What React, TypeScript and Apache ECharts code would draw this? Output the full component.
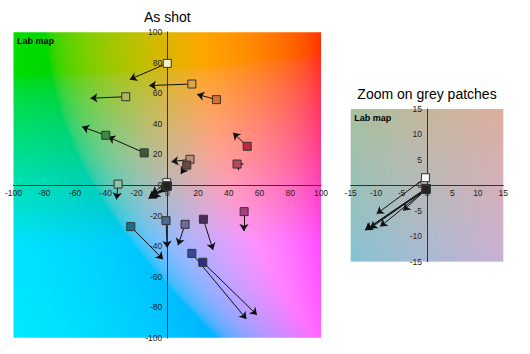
import React, { useEffect, useRef } from "react";
import * as echarts from "echarts";

// Tick labels
const mainTicks = [-100, -80, -60, -40, -20, 0, 20, 40, 60, 80, 100];
const zoomTicks = [-15, -10, -5, 0, 5, 10, 15];

// Colour patches (measured a*, b*), their reference targets and fills
const patchA = [0, 16, 32, -27, -15, -40, 52, 45.4, 14.8, 12.7, -32, -23.7, -0.8, 11.6, 23.5, 50, 16, 23.1];
const patchB = [79.5, 66, 55.8, 57.7, 21, 32.5, 25.3, 13.7, 16.8, 13, 0.6, -27.2, -23.3, -25.7, -22.4, -17.4, -44.7, -50.5];
const targetA = [-24.4, -11.8, 19.4, -50, -38.5, -55.4, 42.8, 44.6, 2.7, 8.8, -33, -2.7, 0, 7, 29.8, 49.8, 51.5, 58.4];
const targetB = [69, 65, 59.3, 56.7, 31.5, 38.1, 34.2, 14.3, 15.2, 7.2, -9.4, -48.6, -41, -39.4, -42.5, -30, -87.6, -85];
const patchColors = [
  "#f8eec4", "#e0a448", "#d8702c", "#b0b45e", "#3d5a37", "#3f8a45",
  "#c0283c", "#b84a5a", "#bc8c7c", "#6a4a40", "#8cc4a8", "#1a6e8a",
  "#4a6a90", "#6a6aa0", "#4a2e5a", "#a83c7c", "#3a4a9a", "#28308a",
];

// Grey patches
const greyA = [-0.3, -0.2, -0.1, -0.2, -0.1, -0.2];
const greyB = [1.5, -0.6, -0.7, -0.8, -0.7, -0.8];
const greyTargetA = [-9.9, -12.2, -11.2, -9.2, -4.7, -12.0];
const greyTargetB = [-5.6, -8.8, -8.45, -8.1, -5.0, -8.7];
const greyColors = ["#f6f6f6", "#c8c8c8", "#9a9a9a", "#6a6a6a", "#444444", "#222222"];

const FONT = '"Liberation Sans", Arial, sans-serif';
const LAB_L = 75;

function labToRgb(L: number, a: number, b: number): [number, number, number] {
  const fy = (L + 16) / 116;
  const fx = fy + a / 500;
  const fz = fy - b / 200;
  const f = (t: number) => (t > 0.206893 ? t * t * t : (t - 16 / 116) / 7.787);
  const X = 0.95047 * f(fx);
  const Y = f(fy);
  const Z = 1.08883 * f(fz);
  const lin = [
    3.2406 * X - 1.5372 * Y - 0.4986 * Z,
    -0.9689 * X + 1.8758 * Y + 0.0415 * Z,
    0.0557 * X - 0.204 * Y + 1.057 * Z,
  ];
  const g = lin.map((c) => {
    const v = c <= 0.0031308 ? 12.92 * c : 1.055 * Math.pow(Math.max(c, 0), 1 / 2.4) - 0.055;
    return Math.round(Math.min(1, Math.max(0, v)) * 255);
  });
  return [g[0], g[1], g[2]];
}

function makeLabImage(min: number, max: number, w: number, h: number): string {
  const cv = document.createElement("canvas");
  cv.width = w;
  cv.height = h;
  const ctx = cv.getContext("2d");
  if (!ctx) return "";
  const img = ctx.createImageData(w, h);
  for (let y = 0; y < h; y++) {
    const bb = max - ((y + 0.5) / h) * (max - min);
    for (let x = 0; x < w; x++) {
      const aa = min + ((x + 0.5) / w) * (max - min);
      const [r, g, b] = labToRgb(LAB_L, aa, bb);
      const i = (y * w + x) * 4;
      img.data[i] = r;
      img.data[i + 1] = g;
      img.data[i + 2] = b;
      img.data[i + 3] = 255;
    }
  }
  ctx.putImageData(img, 0, 0);
  return cv.toDataURL("image/png");
}

const grids = [
  { left: 13.5, top: 32, width: 307.5, height: 306 },
  { left: 350.7, top: 109, width: 152.6, height: 152.7 },
];

function axis(gridIndex: number, ticks: number[], isX: boolean) {
  const lo = ticks[0];
  const hi = ticks[ticks.length - 1];
  const g = grids[gridIndex];
  // move the axis so it crosses the other axis at its zero
  const offset = isX ? -(g.height * (0 - lo)) / (hi - lo) : -(g.width * (0 - lo)) / (hi - lo);
  return {
    gridIndex,
    type: "value",
    min: lo,
    max: hi,
    interval: ticks[1] - ticks[0],
    position: isX ? "bottom" : "left",
    offset,
    axisLine: { onZero: false, lineStyle: { color: "#333", width: 1 } },
    axisTick: { show: false },
    splitLine: { show: false },
    axisLabel: {
      fontSize: 8.5,
      fontFamily: FONT,
      color: "#222",
      margin: isX ? 3 : 5,
      showMinLabel: true,
      showMaxLabel: true,
    },
  };
}

function arrowSeries(idx: number, a: number[], b: number[], ta: number[], tb: number[]) {
  return {
    type: "lines",
    coordinateSystem: "cartesian2d",
    xAxisIndex: idx,
    yAxisIndex: idx,
    symbol: ["none", "arrow"],
    symbolSize: 7,
    silent: true,
    z: 2,
    lineStyle: { color: "#111", width: 1, opacity: 1 },
    data: a.map((v, i) => ({ coords: [[v, b[i]], [ta[i], tb[i]]] })),
  };
}

function squareSeries(idx: number, a: number[], b: number[], colors: string[]) {
  return {
    type: "scatter",
    xAxisIndex: idx,
    yAxisIndex: idx,
    symbol: "rect",
    symbolSize: 8,
    silent: true,
    z: 3,
    itemStyle: { borderColor: "#333", borderWidth: 1, opacity: 1 },
    data: a.map((v, i) => ({ value: [v, b[i]], itemStyle: { color: colors[i] } })),
  };
}

export default function App() {
  const ref = useRef<HTMLDivElement>(null);
  useEffect(() => {
    if (!ref.current) return;
    const chart = echarts.init(ref.current, null, { renderer: "svg" });
    chart.setOption({
      animation: false,
      backgroundColor: "#fff",
      grid: grids,
      xAxis: [axis(0, mainTicks, true), axis(1, zoomTicks, true)],
      yAxis: [axis(0, mainTicks, false), axis(1, zoomTicks, false)],
      series: [
        arrowSeries(0, patchA, patchB, targetA, targetB),
        arrowSeries(0, greyA, greyB, greyTargetA, greyTargetB),
        squareSeries(0, patchA, patchB, patchColors),
        squareSeries(0, greyA, greyB, greyColors),
        arrowSeries(1, greyA, greyB, greyTargetA, greyTargetB),
        squareSeries(1, greyA, greyB, greyColors),
      ],
    });
    const ranges = [mainTicks, zoomTicks];
    const graphics: any[] = [];
    ranges.forEach((t, gi) => {
      const lo = t[0];
      const hi = t[t.length - 1];
      const p0 = chart.convertToPixel({ gridIndex: gi } as any, [lo, hi]) as number[];
      const p1 = chart.convertToPixel({ gridIndex: gi } as any, [hi, lo]) as number[];
      const w = p1[0] - p0[0];
      const h = p1[1] - p0[1];
      graphics.push({
        type: "image",
        x: p0[0],
        y: p0[1],
        z: -10,
        silent: true,
        style: { image: makeLabImage(lo, hi, Math.round(w), Math.round(h)), width: w, height: h },
      });
      graphics.push({
        type: "text",
        x: p0[0] + 3.5,
        y: p0[1] + 8.5,
        z: 10,
        silent: true,
        style: { text: "Lab map", font: `bold 9px ${FONT}`, fill: "#000", verticalAlign: "middle" },
      });
      graphics.push({
        type: "text",
        x: (p0[0] + p1[0]) / 2,
        y: gi === 0 ? 17 : 94,
        z: 10,
        silent: true,
        style: {
          text: gi === 0 ? "As shot" : "Zoom on grey patches",
          font: `14px ${FONT}`,
          fill: "#000",
          align: "center",
          verticalAlign: "middle",
        },
      });
    });
    chart.setOption({ graphic: graphics });
    return () => chart.dispose();
  }, []);
  return (
    <div
      ref={ref}
      style={{ position: "absolute", left: 0, top: 0, width: 530, height: 354 }}
    />
  );
}
